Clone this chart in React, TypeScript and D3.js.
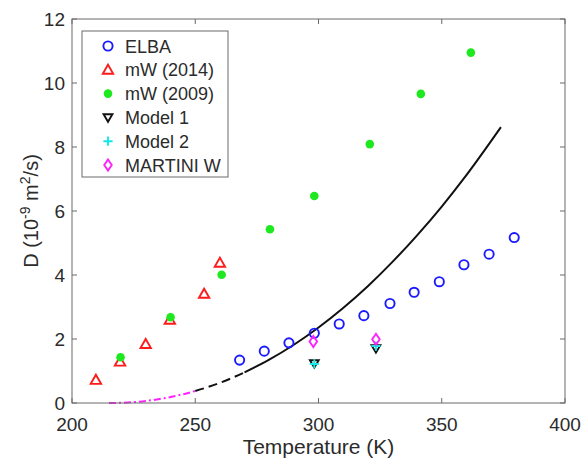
import React from "react";
import * as d3 from "d3";

const elbaT = [268, 278, 288, 298.3, 308.4, 318.4, 329, 338.8, 349, 359, 369.2, 379.4];
const elbaD = [1.34, 1.62, 1.88, 2.18, 2.47, 2.73, 3.11, 3.46, 3.79, 4.32, 4.65, 5.17];
const mw14T = [209.7, 219.5, 229.9, 239.7, 253.6, 260];
const mw14D = [0.72, 1.29, 1.84, 2.6, 3.41, 4.38];
const mw09T = [219.7, 240, 260.7, 280.3, 298.3, 320.8, 341.5, 361.8];
const mw09D = [1.43, 2.68, 4.01, 5.43, 6.47, 8.09, 9.66, 10.95];
const m1T = [298.3, 323.3];
const m1D = [1.24, 1.71];
const m2T = [298.3, 323.3];
const m2D = [1.22, 1.78];
const martT = [297.9, 323.3];
const martD = [1.92, 1.99];
// fitted curve
const fitLowT = [215, 220, 225, 230, 235, 240, 245, 250];
const fitLowD = [0.0, 0.007, 0.028, 0.065, 0.118, 0.187, 0.273, 0.376];
const fitMidT = [250, 255, 260, 265, 270];
const fitMidD = [0.376, 0.495, 0.632, 0.786, 0.958];
const fitHighT = [270, 280, 290, 300, 310, 320, 330, 340, 350, 360, 374];
const fitHighD = [0.958, 1.354, 1.82, 2.36, 2.97, 3.65, 4.41, 5.24, 6.14, 7.12, 8.62];

const xTicks = [200, 250, 300, 350, 400];
const yTicks = [0, 2, 4, 6, 8, 10, 12];
const legendLabels = ["ELBA", "mW (2014)", "mW (2009)", "Model 1", "Model 2", "MARTINI W"];

const FONT = "'Liberation Sans', Arial, Helvetica, sans-serif";
const TXT = "#2b2b2b";
const AX = "#6a6a6a";

function Marker({ kind, x, y }: { kind: number; x: number; y: number }) {
  switch (kind) {
    case 0:
      return <circle cx={x} cy={y} r={4.6} fill="none" stroke="#1a1aff" strokeWidth={1.9} />;
    case 1: {
      const s = 5.2;
      return (
        <path
          d={`M${x},${y - s}L${x + s},${y + s * 0.75}L${x - s},${y + s * 0.75}Z`}
          fill="none"
          stroke="#ff1a1a"
          strokeWidth={1.9}
          strokeLinejoin="miter"
        />
      );
    }
    case 2:
      return <circle cx={x} cy={y} r={4.3} fill="#1ee81e" />;
    case 3: {
      const s = 4.4;
      return (
        <path
          d={`M${x - s},${y - s * 0.7}L${x + s},${y - s * 0.7}L${x},${y + s}Z`}
          fill="none"
          stroke="#111"
          strokeWidth={1.9}
        />
      );
    }
    case 4: {
      const s = 4.6;
      return (
        <path d={`M${x - s},${y}H${x + s}M${x},${y - s}V${y + s}`} stroke="#11e8e8" strokeWidth={1.9} />
      );
    }
    default: {
      const s = 5;
      return (
        <path
          d={`M${x},${y - s * 1.1}L${x + s * 0.75},${y}L${x},${y + s * 1.1}L${x - s * 0.75},${y}Z`}
          fill="none"
          stroke="#ff22ff"
          strokeWidth={1.9}
        />
      );
    }
  }
}

export default function App() {
  const W = 587,
    H = 463;
  const x = d3.scaleLinear().domain([200, 400]).range([72, 565]);
  const y = d3.scaleLinear().domain([0, 12]).range([403, 19]);
  const line = d3
    .line<[number, number]>()
    .x((d) => x(d[0]))
    .y((d) => y(d[1]))
    .curve(d3.curveMonotoneX);
  const zip = (a: number[], b: number[]) => a.map((v, i) => [v, b[i]] as [number, number]);

  const series: [number[], number[]][] = [
    [elbaT, elbaD],
    [mw14T, mw14D],
    [mw09T, mw09D],
    [m1T, m1D],
    [m2T, m2D],
    [martT, martD],
  ];
  const [x0, x1] = x.range();
  const [y0, y1] = y.range();
  const tl = 5;

  return (
    <svg
      width={W}
      height={H}
      style={{ position: "absolute", left: 0, top: 0, background: "#fff" }}
      fontFamily={FONT}
    >
      <rect x={0} y={0} width={W} height={H} fill="#fff" />
      {/* curves */}
      <path d={line(zip(fitLowT, fitLowD)) || ""} fill="none" stroke="#ff22ff" strokeWidth={2} strokeDasharray="7,3,2,3" />
      <path d={line(zip(fitMidT, fitMidD)) || ""} fill="none" stroke="#111" strokeWidth={2} strokeDasharray="9,5" />
      <path d={line(zip(fitHighT, fitHighD)) || ""} fill="none" stroke="#111" strokeWidth={2} />
      {/* markers */}
      {series.map(([ts, ds], k) => (
        <g key={k}>
          {ts.map((t, i) => (
            <Marker key={i} kind={k} x={x(t)} y={y(ds[i])} />
          ))}
        </g>
      ))}
      {/* axes box */}
      <rect x={x0} y={y1} width={x1 - x0} height={y0 - y1} fill="none" stroke={AX} strokeWidth={1} />
      {xTicks.map((t) => (
        <g key={"x" + t}>
          <line x1={x(t)} x2={x(t)} y1={y0} y2={y0 - tl} stroke={AX} />
          <line x1={x(t)} x2={x(t)} y1={y1} y2={y1 + tl} stroke={AX} />
          <text x={x(t)} y={y0 + 28} textAnchor="middle" fontSize={19} fill={TXT}>
            {t}
          </text>
        </g>
      ))}
      {yTicks.map((t) => (
        <g key={"y" + t}>
          <line x1={x0} x2={x0 + tl} y1={y(t)} y2={y(t)} stroke={AX} />
          <line x1={x1} x2={x1 - tl} y1={y(t)} y2={y(t)} stroke={AX} />
          <text x={x0 - 7} y={y(t) + 7} textAnchor="end" fontSize={19} fill={TXT}>
            {t}
          </text>
        </g>
      ))}
      <text x={(x0 + x1) / 2} y={y0 + 51} textAnchor="middle" fontSize={21} fill={TXT}>
        Temperature (K)
      </text>
      <text
        transform={`translate(38,${(y0 + y1) / 2}) rotate(-90)`}
        textAnchor="middle"
        fontSize={20}
        fill={TXT}
      >
        D (10
        <tspan dy={-8} fontSize={14}>
          -9
        </tspan>
        <tspan dy={8}> m</tspan>
        <tspan dy={-8} fontSize={14}>
          2
        </tspan>
        <tspan dy={8}>/s)</tspan>
      </text>
      {/* legend */}
      <rect x={82} y={31} width={146} height={146} fill="#fff" stroke={AX} strokeWidth={1} />
      {legendLabels.map((lab, i) => {
        const ly = 46 + i * 23.8;
        return (
          <g key={lab}>
            <Marker kind={i} x={108} y={ly} />
            <text x={125} y={ly + 6.5} fontSize={18} fill={TXT}>
              {lab}
            </text>
          </g>
        );
      })}
    </svg>
  );
}
